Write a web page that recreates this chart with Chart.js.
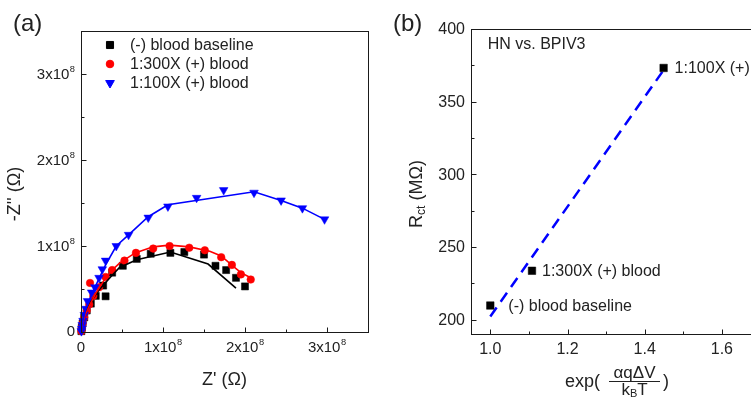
<!DOCTYPE html>
<html>
<head>
<meta charset="utf-8">
<script src="https://cdn.jsdelivr.net/npm/chart.js@4/dist/chart.umd.min.js"></script>
<style>
html,body{margin:0;padding:0;background:#fff;overflow:hidden;width:751px;height:397px}
canvas{position:absolute;top:0}
#ca{left:0}
#cb{left:375px}
</style>
</head>
<body>
<canvas id="ca" width="375" height="397"></canvas>
<canvas id="cb" width="395" height="397"></canvas>
<script>
// ─── DATA (a): Nyquist, values in units of 1e8 Ω ───
const baseRe = [0.005,0.01,0.02,0.04,0.07,0.12,0.18,0.27,0.30,0.38,0.51,0.68,0.85,1.09,1.26,1.50,1.64,1.77,1.89,2.00];
const baseIm = [0.01,0.05,0.10,0.17,0.25,0.33,0.42,0.54,0.415,0.69,0.77,0.85,0.91,0.92,0.93,0.90,0.77,0.72,0.63,0.53];
const r300Re = [0.005,0.01,0.02,0.04,0.07,0.10,0.11,0.15,0.22,0.30,0.38,0.53,0.67,0.88,1.08,1.32,1.51,1.71,1.84,1.95,2.07];
const r300Im = [0.01,0.05,0.10,0.17,0.25,0.32,0.57,0.42,0.52,0.64,0.72,0.83,0.92,0.97,1.00,0.98,0.95,0.87,0.78,0.67,0.61];
const r100Re = [0.005,0.01,0.015,0.025,0.04,0.06,0.08,0.13,0.17,0.22,0.26,0.30,0.43,0.58,0.82,1.06,1.41,1.74,2.11,2.44,2.70,2.97];
const r100Im = [0.01,0.04,0.08,0.13,0.20,0.27,0.36,0.46,0.52,0.63,0.73,0.83,1.00,1.13,1.33,1.46,1.56,1.65,1.62,1.53,1.44,1.31];

// fitted curves
const baseFitRe = [0,0.01,0.03,0.06,0.12,0.22,0.38,0.47,0.68,1.09,1.55,1.89];
const baseFitIm = [0,0.06,0.14,0.23,0.35,0.49,0.66,0.75,0.84,0.93,0.79,0.51];
const r300FitRe = [0,0.01,0.03,0.06,0.11,0.18,0.28,0.38,0.47,0.66,0.88,1.08,1.32,1.57,1.71,1.85,1.95,2.07];
const r300FitIm = [0,0.05,0.13,0.22,0.32,0.45,0.60,0.72,0.80,0.92,0.99,1.01,0.99,0.94,0.885,0.77,0.69,0.63];
const r100FitRe = [0,0.01,0.03,0.06,0.10,0.16,0.22,0.30,0.43,0.58,0.82,1.06,2.11,2.44,2.70,2.97];
const r100FitIm = [0,0.06,0.16,0.27,0.37,0.50,0.62,0.78,1.00,1.13,1.34,1.48,1.63,1.53,1.44,1.31];

const seriesNames = ['(-) blood baseline','1:300X (+) blood','1:100X (+) blood'];
const aTicks = [0,1,2,3];
const aMinor = [0.5,1.5,2.5];

// ─── DATA (b): Rct vs exp(αqΔV/kBT) ───
const expX = [1.0, 1.108, 1.449];
const rct = [209.8, 233.7, 373.2];
const ptLabels = ['(-) blood baseline','1:300X (+) blood','1:100X (+)'];
const fitX = [1.0, 1.447];
const fitY = [202.3, 371];
const bXTicks = [1.0,1.2,1.4,1.6];
const bXMinor = [1.1,1.3,1.5];
const bYTicks = [200,250,300,350,400];
const bYMinor = [225,275,325,375];

const FONT = '"Liberation Sans", Arial, Helvetica, sans-serif';
const f = sz => sz+'px '+FONT;
const pts = (xs,ys) => xs.map((x,i)=>({x, y:ys[i]}));

function supText(ctx, base, sup, x, y, align, size) {
  ctx.font=f(size); const wb=ctx.measureText(base).width;
  ctx.font=f(size*0.62); const ws=sup?ctx.measureText(sup).width+0.5:0;
  const w=wb+ws;
  const x0 = align==='center' ? x-w/2 : align==='right' ? x-w : x;
  ctx.textAlign='left'; ctx.textBaseline='middle';
  ctx.font=f(size); ctx.fillText(base,x0,y);
  if(sup){ ctx.font=f(size*0.62); ctx.fillText(sup,x0+wb+0.5,y-size*0.38); }
}

function drawFrameTicks(ctx, a, xs, ys, xMaj, xMin, yMaj, yMin) {
  ctx.strokeStyle='#1a1a1a'; ctx.lineWidth=1;
  const L=Math.round(a.left)+0.5, R=Math.round(a.right)+0.5, T=Math.round(a.top)+0.5, B=Math.round(a.bottom)+0.5;
  ctx.strokeRect(L,T,R-L,B-T);
  ctx.beginPath();
  xMaj.forEach(v=>{const p=Math.round(xs.getPixelForValue(v))+0.5; ctx.moveTo(p,B); ctx.lineTo(p,B-5);});
  xMin.forEach(v=>{const p=Math.round(xs.getPixelForValue(v))+0.5; ctx.moveTo(p,B); ctx.lineTo(p,B-3);});
  yMaj.forEach(v=>{const p=Math.round(ys.getPixelForValue(v))+0.5; ctx.moveTo(L,p); ctx.lineTo(L+5,p);});
  yMin.forEach(v=>{const p=Math.round(ys.getPixelForValue(v))+0.5; ctx.moveTo(L,p); ctx.lineTo(L+3,p);});
  ctx.stroke();
}

const markerStyles = [
  {pointStyle:'rect', radius:5, rotation:0, color:'#000000'},
  {pointStyle:'circle', radius:3.8, rotation:0, color:'#ff0000'},
  {pointStyle:'triangle', radius:5, rotation:180, color:'#0000ff'}
];

// ─── PANEL (a) ───
const axesA = { id:'axesA', afterDatasetsDraw(chart) {
  const {ctx, chartArea:a, scales:{x,y}} = chart;
  ctx.save();
  drawFrameTicks(ctx,a,x,y,aTicks,aMinor,aTicks,[...aMinor,3.5]);
  ctx.fillStyle='#222';
  aTicks.forEach(v=>{
    const px=x.getPixelForValue(v), py=y.getPixelForValue(v);
    if(v===0){ supText(ctx,'0','',px,348,'center',15); supText(ctx,'0','',75,py,'right',15); }
    else { supText(ctx,v+'x10','8',px,348,'center',15); supText(ctx,v+'x10','8',75,py+1,'right',15); }
  });
  // axis titles
  ctx.font=f(18); ctx.textAlign='center'; ctx.textBaseline='middle';
  ctx.fillText("Z' (\u03A9)", (a.left+a.right)/2, 380);
  ctx.save(); ctx.translate(15,194); ctx.rotate(-Math.PI/2);
  ctx.fillText("-Z'' (\u03A9)",0,0); ctx.restore();
  ctx.font=f(24); ctx.textAlign='left';
  ctx.fillText('(a)',13,24);
  // legend
  ctx.font=f(16);
  seriesNames.forEach((n,i)=>{
    const yy=45+i*19, m=markerStyles[i];
    ctx.fillStyle=m.color; ctx.strokeStyle=m.color;
    Chart.helpers.drawPoint(ctx,{pointStyle:m.pointStyle,radius:m.radius,rotation:m.rotation,borderWidth:0.5},110,yy);
    ctx.fillStyle='#222'; ctx.textAlign='left'; ctx.textBaseline='middle';
    ctx.fillText(n,130,yy+1);
  });
  ctx.restore();
}};

const lineDs = (xs,ys,c) => ({data:pts(xs,ys), showLine:true, borderColor:c, borderWidth:1.6, pointRadius:0, clip:false, tension:0});
const markDs = (xs,ys,m) => ({data:pts(xs,ys), showLine:false, pointStyle:m.pointStyle, pointRadius:m.radius,
  pointRotation:m.rotation, backgroundColor:m.color, borderColor:m.color, borderWidth:0.5, clip:false});

new Chart(document.getElementById('ca'), {
  type:'scatter',
  data:{datasets:[
    lineDs(r100FitRe,r100FitIm,'#0000ff'),
    lineDs(r300FitRe,r300FitIm,'#ff0000'),
    lineDs(baseFitRe,baseFitIm,'#000000'),
    markDs(r100Re,r100Im,markerStyles[2]),
    markDs(r300Re,r300Im,markerStyles[1]),
    markDs(baseRe,baseIm,markerStyles[0])
  ]},
  options:{
    responsive:false, devicePixelRatio:1, animation:false, events:[],
    layout:{padding:{left:81,top:31,right:7,bottom:65}},
    plugins:{legend:{display:false},tooltip:{enabled:false}},
    scales:{x:{type:'linear',display:false,min:0,max:3.5},y:{type:'linear',display:false,min:0,max:3.5}}
  },
  plugins:[axesA]
});

// ─── PANEL (b) ───
const labelDx = [18, 10, 11];
const axesB = { id:'axesB', afterDatasetsDraw(chart) {
  const {ctx, chartArea:a, scales:{x,y}} = chart;
  ctx.save();
  drawFrameTicks(ctx,a,x,y,bXTicks,bXMinor,bYTicks,bYMinor);
  ctx.fillStyle='#222';
  bXTicks.forEach(v=>supText(ctx,v.toFixed(1),'',x.getPixelForValue(v),350,'center',16));
  bYTicks.forEach(v=>supText(ctx,String(v),'',90,y.getPixelForValue(v)+1,'right',16));
  // point labels
  ctx.font=f(16); ctx.textAlign='left'; ctx.textBaseline='middle';
  ptLabels.forEach((t,i)=>ctx.fillText(t, x.getPixelForValue(expX[i])+labelDx[i], y.getPixelForValue(rct[i])+1));
  ctx.fillText('HN vs. BPIV3', 112.7, 45);
  ctx.font=f(24); ctx.fillText('(b)',18,24);
  // y title: R_ct (MΩ)
  ctx.save(); ctx.translate(42,194); ctx.rotate(-Math.PI/2);
  ctx.font=f(18); const wR=ctx.measureText('R').width;
  ctx.font=f(12); const wc=ctx.measureText('ct').width;
  ctx.font=f(18); const wm=ctx.measureText(' (M\u03A9)').width;
  let x0=-(wR+wc+wm)/2;
  ctx.textBaseline='middle';
  ctx.fillText('R',x0,0);
  ctx.font=f(12); ctx.fillText('ct',x0+wR,5);
  ctx.font=f(18); ctx.fillText(' (M\u03A9)',x0+wR+wc,0);
  ctx.restore();
  // x title: exp( αqΔV / kBT )
  ctx.font=f(18); ctx.textAlign='left'; ctx.textBaseline='middle';
  ctx.fillText('exp(',190,382);
  const fx=259.5;
  ctx.font=f(17); ctx.textAlign='center';
  ctx.fillText('\u03B1q\u0394V',fx,373);
  ctx.strokeStyle='#222'; ctx.lineWidth=1;
  ctx.beginPath(); ctx.moveTo(234,381.5); ctx.lineTo(285,381.5); ctx.stroke();
  ctx.font=f(17); const wk=ctx.measureText('k').width, wt=ctx.measureText('T').width;
  ctx.font=f(11); const wb=ctx.measureText('B').width;
  let dx=fx-(wk+wb+wt)/2;
  ctx.textAlign='left';
  ctx.font=f(17); ctx.fillText('k',dx,390);
  ctx.font=f(11); ctx.fillText('B',dx+wk,394);
  ctx.font=f(17); ctx.fillText('T',dx+wk+wb,390);
  ctx.font=f(18); ctx.fillText(')',288,382);
  ctx.restore();
}};

new Chart(document.getElementById('cb'), {
  type:'scatter',
  data:{datasets:[
    {data:pts(expX,rct), showLine:false, pointStyle:'rect', pointRadius:5.3, backgroundColor:'#000', borderColor:'#000', borderWidth:0.5, clip:false},
    {data:pts(fitX,fitY), showLine:true, borderColor:'#0000ff', borderWidth:2.5, borderDash:[11,7], pointRadius:0, clip:false}
  ]},
  options:{
    responsive:false, devicePixelRatio:1, animation:false, events:[],
    layout:{padding:{left:96,top:29,right:9.5,bottom:62.7}},
    plugins:{legend:{display:false},tooltip:{enabled:false}},
    scales:{x:{type:'linear',display:false,min:0.95,max:1.7},y:{type:'linear',display:false,min:190,max:400}}
  },
  plugins:[axesB]
});
</script>
</body>
</html>
